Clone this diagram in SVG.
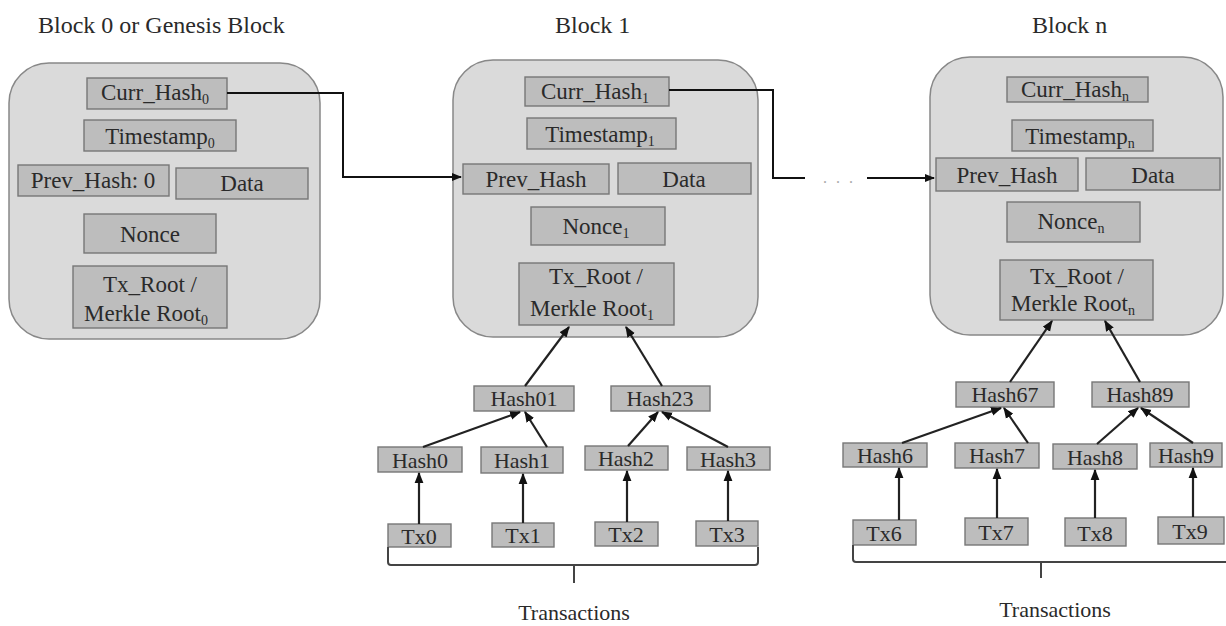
<svg xmlns="http://www.w3.org/2000/svg" width="1226" height="626" viewBox="0 0 1226 626" font-family="'Liberation Serif','Times New Roman','DejaVu Serif',serif">
<style>
text{font-family:"Liberation Serif","Times New Roman","DejaVu Serif",serif;fill:#2a2a2a}
.title{font-size:24px}
.t{font-size:23px;text-anchor:middle}
.s{font-size:22px;text-anchor:middle}
.sub{font-size:14px}
.blk{fill:#dadada;stroke:#888;stroke-width:1.5}
.box{fill:#bdbdbd;stroke:#777;stroke-width:1.4}
.ln{fill:none;stroke:#111;stroke-width:2}
.ar{fill:none;stroke:#222;stroke-width:2.2;marker-end:url(#ah)}
.br{fill:none;stroke:#444;stroke-width:2}
</style>
<defs>
<marker id="ah" viewBox="0 0 10 10" refX="9" refY="5" markerWidth="5" markerHeight="5" orient="auto-start-reverse" markerUnits="strokeWidth"><path d="M0,1 L10,5 L0,9 z" fill="#111"/></marker>
</defs>
<rect width="1226" height="626" fill="#fff"/>
<text class="title" x="38" y="33">Block 0 or Genesis Block</text>
<text class="title" x="555" y="33">Block 1</text>
<text class="title" x="1032" y="33">Block n</text>

<g id="block0">
<rect class="blk" x="9" y="63" width="311" height="276" rx="40"/>
<rect class="box" x="87" y="78" width="140" height="31"/><text class="t" x="155" y="100">Curr_Hash<tspan class="sub" dy="4">0</tspan></text>
<rect class="box" x="84" y="120" width="152" height="31"/><text class="t" x="160" y="144">Timestamp<tspan class="sub" dy="4">0</tspan></text>
<rect class="box" x="18" y="165" width="151" height="31"/><text class="t" x="93" y="188">Prev_Hash: 0</text>
<rect class="box" x="176" y="168" width="132" height="31"/><text class="t" x="242" y="191">Data</text>
<rect class="box" x="84" y="214" width="132" height="39"/><text class="t" x="150" y="242">Nonce</text>
<rect class="box" x="73" y="266" width="154" height="62"/><text class="t" x="150" y="292">Tx_Root /</text><text class="t" x="146" y="321">Merkle Root<tspan class="sub" dy="4">0</tspan></text>
</g>

<g id="block1">
<rect class="blk" x="453" y="60" width="305" height="277" rx="40"/>
<rect class="box" x="525" y="77" width="144" height="29"/><text class="t" x="595" y="99">Curr_Hash<tspan class="sub" dy="4">1</tspan></text>
<rect class="box" x="527" y="118" width="149" height="31"/><text class="t" x="600" y="142">Timestamp<tspan class="sub" dy="4">1</tspan></text>
<rect class="box" x="463" y="164" width="146" height="30"/><text class="t" x="536" y="187">Prev_Hash</text>
<rect class="box" x="618" y="163" width="133" height="31"/><text class="t" x="684" y="187">Data</text>
<rect class="box" x="531" y="207" width="134" height="38"/><text class="t" x="596" y="234">Nonce<tspan class="sub" dy="4">1</tspan></text>
<rect class="box" x="519" y="263" width="155" height="62"/><text class="t" x="596" y="284">Tx_Root /</text><text class="t" x="592" y="316">Merkle Root<tspan class="sub" dy="4">1</tspan></text>
</g>

<g id="blockn">
<rect class="blk" x="930" y="57" width="293" height="278" rx="40"/>
<rect class="box" x="1007" y="77" width="141" height="25"/><text class="t" x="1075" y="97">Curr_Hash<tspan class="sub" dy="4">n</tspan></text>
<rect class="box" x="1012" y="120" width="141" height="31"/><text class="t" x="1080" y="144">Timestamp<tspan class="sub" dy="4">n</tspan></text>
<rect class="box" x="936" y="158" width="142" height="33"/><text class="t" x="1007" y="183">Prev_Hash</text>
<rect class="box" x="1086" y="158" width="134" height="32"/><text class="t" x="1153" y="183">Data</text>
<rect class="box" x="1007" y="202" width="133" height="40"/><text class="t" x="1071" y="229">Nonce<tspan class="sub" dy="4">n</tspan></text>
<rect class="box" x="1000" y="260" width="153" height="60"/><text class="t" x="1077" y="284">Tx_Root /</text><text class="t" x="1073" y="311">Merkle Root<tspan class="sub" dy="4">n</tspan></text>
</g>

<g id="tree1">
<g id="hash01"><rect class="box" x="474" y="386" width="100" height="25"/><text class="s" x="524" y="406">Hash01</text></g>
<g id="hash23"><rect class="box" x="611" y="386" width="99" height="25"/><text class="s" x="660" y="406">Hash23</text></g>
<g id="hash0"><rect class="box" x="378" y="447" width="84" height="25"/><text class="s" x="420" y="468">Hash0</text></g>
<g id="hash1"><rect class="box" x="481" y="447" width="82" height="26"/><text class="s" x="522" y="468">Hash1</text></g>
<g id="hash2"><rect class="box" x="585" y="446" width="83" height="24"/><text class="s" x="626" y="466">Hash2</text></g>
<g id="hash3"><rect class="box" x="687" y="447" width="83" height="23"/><text class="s" x="728" y="467">Hash3</text></g>
<g id="tx0"><rect class="box" x="388" y="524" width="63" height="23"/><text class="s" x="419" y="544">Tx0</text></g>
<g id="tx1"><rect class="box" x="492" y="523" width="62" height="24"/><text class="s" x="523" y="543">Tx1</text></g>
<g id="tx2"><rect class="box" x="595" y="522" width="63" height="24"/><text class="s" x="626" y="542">Tx2</text></g>
<g id="tx3"><rect class="box" x="696" y="521" width="62" height="25"/><text class="s" x="727" y="542">Tx3</text></g>
<text class="s" x="574" y="620">Transactions</text>
</g>

<g id="treen">
<g id="hash67"><rect class="box" x="956" y="382" width="98" height="25"/><text class="s" x="1005" y="402">Hash67</text></g>
<g id="hash89"><rect class="box" x="1092" y="382" width="97" height="25"/><text class="s" x="1140" y="402">Hash89</text></g>
<g id="hash6"><rect class="box" x="843" y="443" width="84" height="24"/><text class="s" x="885" y="463">Hash6</text></g>
<g id="hash7"><rect class="box" x="955" y="443" width="84" height="25"/><text class="s" x="997" y="463">Hash7</text></g>
<g id="hash8"><rect class="box" x="1053" y="444" width="84" height="25"/><text class="s" x="1095" y="465">Hash8</text></g>
<g id="hash9"><rect class="box" x="1150" y="443" width="72" height="24"/><text class="s" x="1186" y="463">Hash9</text></g>
<g id="tx6"><rect class="box" x="853" y="520" width="63" height="25"/><text class="s" x="884" y="541">Tx6</text></g>
<g id="tx7"><rect class="box" x="965" y="518" width="63" height="27"/><text class="s" x="996" y="540">Tx7</text></g>
<g id="tx8"><rect class="box" x="1065" y="518" width="61" height="28"/><text class="s" x="1095" y="541">Tx8</text></g>
<g id="tx9"><rect class="box" x="1158" y="517" width="66" height="27"/><text class="s" x="1190" y="539">Tx9</text></g>
<text class="s" x="1055" y="617">Transactions</text>
</g>

<g id="connectors">
<path class="ln" d="M227,93 H343 V177 H461" marker-end="url(#ah)"/>
<path class="ln" d="M669,90 H773 V178 H805"/>
<text x="823" y="183" style="font-size:16px;fill:#aaa" textLength="30">. . .</text>
<path class="ln" d="M867,178 H934" marker-end="url(#ah)"/>
<path class="ar" d="M525,386 L569,327"/>
<path class="ar" d="M662,386 L626,327"/>
<path class="ar" d="M423,447 L520,412"/>
<path class="ar" d="M547,447 L525,412"/>
<path class="ar" d="M628,446 L658,412"/>
<path class="ar" d="M728,447 L662,412"/>
<path class="ar" d="M419,524 L419,473"/>
<path class="ar" d="M523,523 L523,474"/>
<path class="ar" d="M627,522 L627,471"/>
<path class="ar" d="M728,521 L728,471"/>
<path class="ar" d="M1010,382 L1052,321"/>
<path class="ar" d="M1140,382 L1105,321"/>
<path class="ar" d="M902,443 L1001,408"/>
<path class="ar" d="M1028,443 L1004,408"/>
<path class="ar" d="M1097,444 L1138,408"/>
<path class="ar" d="M1193,443 L1141,408"/>
<path class="ar" d="M899,520 L899,468"/>
<path class="ar" d="M997,518 L997,469"/>
<path class="ar" d="M1095,518 L1095,470"/>
<path class="ar" d="M1193,517 L1193,468"/>
<path class="br" d="M388,547 V562 Q388,565 391,565 H755 Q758,565 758,562 V547 M574,565 V583"/>
<path class="br" d="M853,545 V559 Q853,562 856,562 H1226 M1041,562 V578"/>
</g>
</svg>
